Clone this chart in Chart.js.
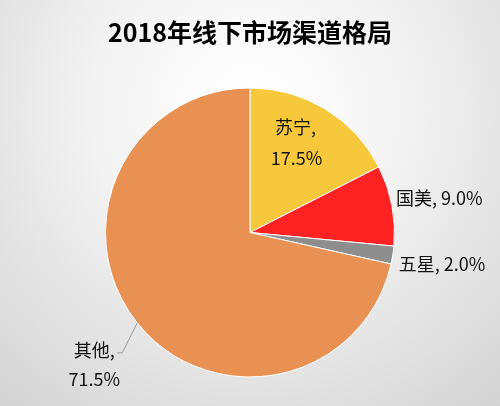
<!DOCTYPE html>
<html><head><meta charset="utf-8">
<script src="https://cdn.jsdelivr.net/npm/chart.js@4"></script>
<style>html,body{margin:0;padding:0;background:#fff}#wrap{width:500px;height:406px;position:relative}</style>
</head><body><div id="wrap"><canvas id="c" width="500" height="406"></canvas></div>
<script>
const titleText = '2018年线下市场渠道格局';
const categories = ['苏宁', '国美', '五星', '其他'];
const shares = [17.5, 9.0, 2.0, 71.5];
const sliceColors = ['#F7C83B', '#FE2222', '#8E8E8E', '#E89153'];

const FONT = '"Noto Sans CJK SC", "Noto Sans", sans-serif';

const bgPlugin = {
  id: 'bg',
  beforeDraw(chart) {
    const ctx = chart.ctx, w = chart.width, h = chart.height;
    ctx.save();
    const g = ctx.createRadialGradient(250, 110, 20, 250, 110, 420);
    g.addColorStop(0, '#ffffff');
    g.addColorStop(0.35, '#f2f2f2');
    g.addColorStop(1, '#cfcfcf');
    ctx.fillStyle = g;
    ctx.fillRect(0, 0, w, h);
    ctx.restore();
  }
};

const labelPlugin = {
  id: 'sliceLabels',
  afterDatasetsDraw(chart) {
    const ctx = chart.ctx;
    const meta = chart.getDatasetMeta(0);
    ctx.save();
    ctx.font = '18px ' + FONT;
    ctx.fillStyle = '#111';
    ctx.textBaseline = 'middle';
    meta.data.forEach((arc, i) => {
      const p = arc.getProps(['x', 'y', 'startAngle', 'endAngle', 'outerRadius'], true);
      const mid = (p.startAngle + p.endAngle) / 2;
      const ex = p.x + Math.cos(mid) * p.outerRadius;
      const ey = p.y + Math.sin(mid) * p.outerRadius;
      const val = shares[i].toFixed(1) + '%';
      const name = categories[i];
      if (i === 0) {
        ctx.textAlign = 'center';
        ctx.fillText(name + ',', ex - 30, ey + 18);
        ctx.fillText(val, ex - 29, ey + 49);
      } else if (i === 1) {
        ctx.textAlign = 'left';
        ctx.fillText(name + ', ' + val, ex + 4, ey - 7);
      } else if (i === 2) {
        ctx.textAlign = 'left';
        ctx.fillText(name + ', ' + val, ex + 6, ey + 9);
      } else {
        ctx.strokeStyle = '#9a9a9a';
        ctx.lineWidth = 1;
        ctx.beginPath();
        ctx.moveTo(ex, ey);
        ctx.lineTo(ex - 15, ey + 30);
        ctx.lineTo(ex - 20, ey + 30);
        ctx.stroke();
        ctx.textAlign = 'center';
        ctx.fillText(name + ',', ex - 43, ey + 27);
        ctx.fillText(val, ex - 43, ey + 56);
      }
    });
    ctx.restore();
  }
};

new Chart(document.getElementById('c'), {
  type: 'pie',
  data: {
    labels: categories,
    datasets: [{
      data: shares,
      backgroundColor: sliceColors,
      borderColor: '#ffffff',
      borderWidth: 1,
      hoverOffset: 0
    }]
  },
  options: {
    responsive: false,
    animation: false,
    rotation: 0,
    layout: { padding: { top: 0, bottom: 28, left: 105, right: 105 } },
    plugins: {
      legend: { display: false },
      tooltip: { enabled: false },
      title: {
        display: true,
        text: titleText,
        color: '#000',
        font: { family: FONT, size: 25, weight: 'bold' },
        padding: { top: 17, bottom: 40 }
      }
    }
  },
  plugins: [bgPlugin, labelPlugin]
});
</script>
</body></html>
